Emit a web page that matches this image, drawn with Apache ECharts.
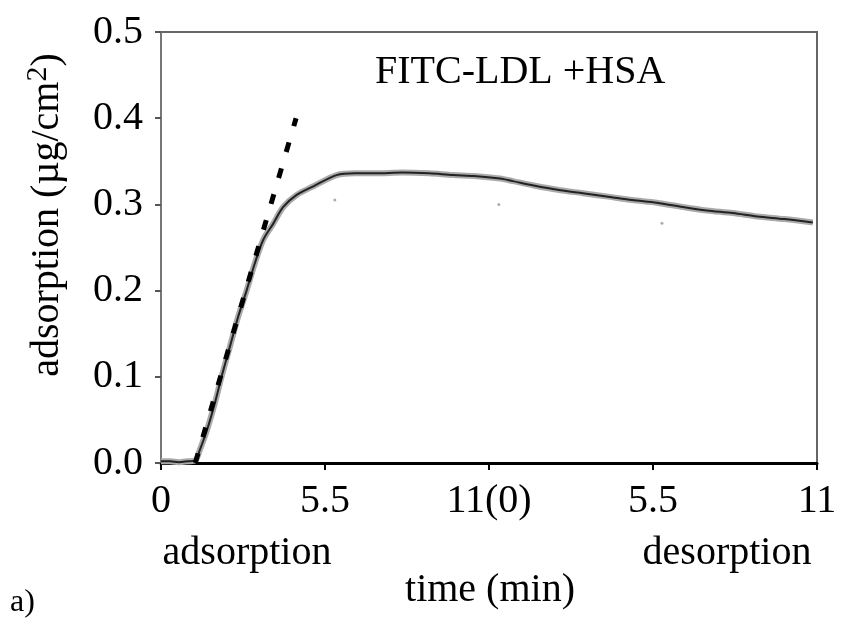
<!DOCTYPE html>
<html>
<head>
<meta charset="utf-8">
<script src="https://cdn.jsdelivr.net/npm/echarts@6/dist/echarts.min.js"></script>
<style>
  html, body { margin: 0; padding: 0; background: #fff; }
  #main { width: 845px; height: 618px; }
</style>
</head>
<body>
<div id="main"></div>
<script>
// 吸附曲线 (time, adsorption) - 读自原图
var curveX = [0, 0.3, 0.6, 0.9, 1.15, 1.3, 1.54, 1.81, 2.03, 2.31, 2.59, 2.87, 3.15, 3.43, 3.77, 4.1, 4.55, 5.11, 5.89, 6.5, 7.2, 8.1, 9.0, 9.8, 10.5, 11.37, 11.8, 12.5, 13.3, 14.15, 15.0, 15.8, 16.63, 17.5, 18.3, 19.18, 20.0, 20.9, 21.86];
var curveY = [0.002, 0.002, 0.001, 0.002, 0.003, 0.015, 0.038, 0.07, 0.1, 0.135, 0.17, 0.2, 0.232, 0.259, 0.278, 0.297, 0.311, 0.321, 0.334, 0.336, 0.336, 0.337, 0.336, 0.334, 0.333, 0.33, 0.327, 0.322, 0.317, 0.313, 0.309, 0.305, 0.302, 0.297, 0.293, 0.29, 0.286, 0.283, 0.279];
// 虚线 (初始斜率)
var slopeX = [1.15, 4.53];
var slopeY = [0, 0.4];
// 零散点
var strayX = [5.83, 11.33, 16.8];
var strayY = [0.305, 0.3, 0.278];
// 坐标轴刻度
var xTickValues = [0, 5.5, 11, 16.5, 22];
var xTickLabels = ['0', '5.5', '11(0)', '5.5', '11'];

function pairs(xs, ys) {
    var out = [];
    for (var i = 0; i < xs.length; i++) {
        out.push([xs[i], ys[i]]);
    }
    return out;
}

var font = 'Liberation Serif, Times New Roman, serif';
var myChart = echarts.init(document.getElementById('main'));

var option = {
    backgroundColor: '#fff',
    animation: false,
    grid: {
        left: 161, right: 28, top: 32, bottom: 155,
        show: true, borderColor: '#666', borderWidth: 2
    },
    xAxis: {
        type: 'value',
        min: 0, max: 22, interval: 5.5,
        axisLine: { lineStyle: { color: '#000', width: 3 } },
        axisTick: { length: 7, lineStyle: { color: '#000', width: 2 } },
        splitLine: { show: false },
        axisLabel: {
            margin: 18,
            fontFamily: font, fontSize: 40, color: '#000',
            formatter: function (v) {
                var idx = xTickValues.indexOf(v);
                return idx >= 0 ? xTickLabels[idx] : '';
            }
        }
    },
    yAxis: {
        type: 'value',
        min: 0, max: 0.5, interval: 0.1,
        axisLine: { lineStyle: { color: '#777', width: 2 } },
        axisTick: { length: 6, lineStyle: { color: '#555', width: 2 } },
        splitLine: { show: false },
        axisLabel: {
            margin: 18,
            fontFamily: font, fontSize: 40, color: '#000',
            formatter: function (v) { return v.toFixed(1); }
        }
    },
    graphic: [
        {
            type: 'text', x: 375, y: 72,
            style: { text: 'FITC-LDL +HSA', font: '40px ' + font, fill: '#000', align: 'left', verticalAlign: 'middle' }
        },
        {
            type: 'text', x: 247, y: 553,
            style: { text: 'adsorption', font: '40px ' + font, fill: '#000', align: 'center', verticalAlign: 'middle' }
        },
        {
            type: 'text', x: 727, y: 553,
            style: { text: 'desorption', font: '40px ' + font, fill: '#000', align: 'center', verticalAlign: 'middle' }
        },
        {
            type: 'text', x: 490, y: 590,
            style: { text: 'time (min)', font: '40px ' + font, fill: '#000', align: 'center', verticalAlign: 'middle' }
        },
        {
            type: 'text', x: 10, y: 603,
            style: { text: 'a)', font: '32px ' + font, fill: '#000', align: 'left', verticalAlign: 'middle' }
        },
        {
            type: 'text', x: 45, y: 215, rotation: Math.PI / 2,
            style: {
                text: '{a|adsorption (µg/cm}{s|2}{a|)}',
                align: 'center', verticalAlign: 'middle',
                rich: {
                    a: { fontFamily: font, fontSize: 40, fill: '#000', lineHeight: 44, verticalAlign: 'bottom' },
                    s: { fontFamily: font, fontSize: 30, fill: '#000', lineHeight: 30, verticalAlign: 'top' }
                }
            }
        }
    ],
    series: [
        {
            name: 'band',
            type: 'line',
            data: pairs(curveX, curveY),
            smooth: 0.3,
            symbol: 'none',
            lineStyle: { color: '#aaa', width: 6 },
            z: 2
        },
        {
            name: 'curve',
            type: 'line',
            data: pairs(curveX, curveY),
            smooth: 0.3,
            symbol: 'none',
            lineStyle: { color: '#222', width: 2 },
            z: 3
        },
        {
            name: 'slope',
            type: 'line',
            data: pairs(slopeX, slopeY),
            symbol: 'none',
            lineStyle: { color: '#000', width: 5, type: [10, 17] },
            z: 4
        },
        {
            name: 'stray',
            type: 'scatter',
            data: pairs(strayX, strayY),
            symbolSize: 3,
            itemStyle: { color: '#999' },
            z: 3
        }
    ]
};

myChart.setOption(option);
</script>
</body>
</html>
